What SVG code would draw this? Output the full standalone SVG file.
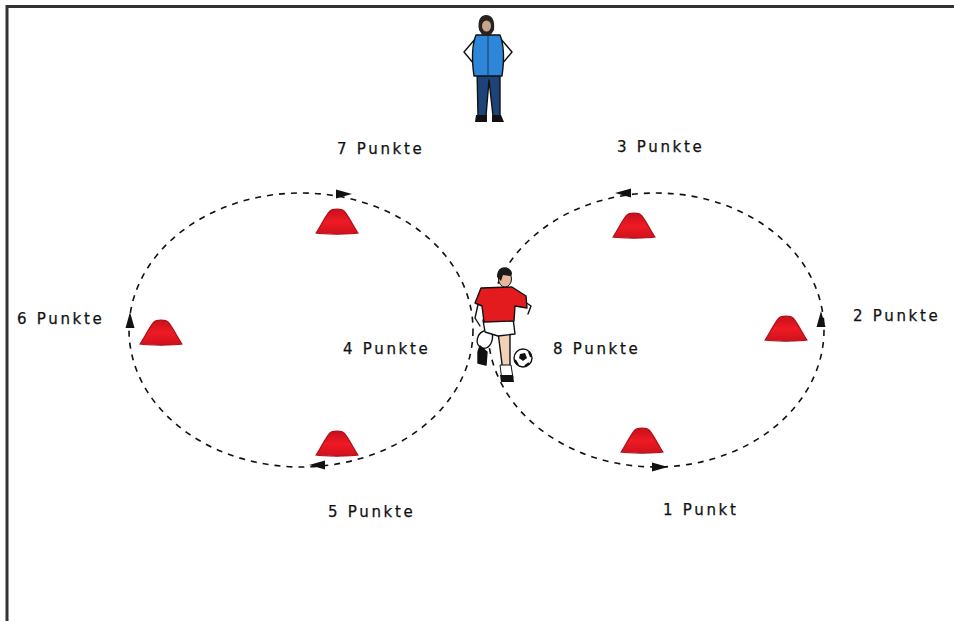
<svg xmlns="http://www.w3.org/2000/svg" width="954" height="621" viewBox="0 0 954 621">
  <style>
    .lbl { font-family: "DejaVu Sans", Verdana, sans-serif; font-size: 15px; fill: #111; letter-spacing: 2.7px; stroke: #111; stroke-width: 0.25; }
    .run { fill: none; stroke: #111; stroke-width: 1.6; stroke-dasharray: 6 6; }
    .cone { fill: url(#coneFill); stroke: #b0101a; stroke-width: 1.2; }
    .ink { stroke: #111; stroke-width: 1.4; stroke-linejoin: round; stroke-linecap: round; }
  </style>
  <defs>
    <linearGradient id="coneFill" x1="0" y1="0" x2="0" y2="1">
      <stop offset="0" stop-color="#c8101c"/>
      <stop offset="0.5" stop-color="#ee1a24"/>
      <stop offset="1" stop-color="#d0121c"/>
    </linearGradient>
    <path id="arrowHead" d="M0,0 L-16,-4.5 L-16,4.5 Z" fill="#111"/>
    <path id="coneShape" class="cone" d="M-21,0 C-18,-4 -11,-18 -7,-22 C-5,-24.5 5,-24.5 7,-22 C11,-18 18,-4 21,0 C14,1.5 -14,1.5 -21,0 Z"/>
  </defs>

  <rect x="0" y="0" width="954" height="621" fill="#fff"/>

  <!-- field border -->
  <g id="field">
    <path d="M7,621 L7,6.5 L954,6.5" fill="none" stroke="#333" stroke-width="3"/>
  </g>

  <!-- running loops and direction arrows -->
  <g id="connectors">
    <ellipse class="run" cx="301" cy="330" rx="172" ry="137"/>
    <ellipse class="run" cx="656" cy="330" rx="168" ry="137"/>
    <use href="#arrowHead" transform="translate(352,194)"/>
    <use href="#arrowHead" transform="translate(130,312) rotate(-90)"/>
    <use href="#arrowHead" transform="translate(309,465) rotate(180)"/>
    <use href="#arrowHead" transform="translate(615,193) rotate(180)"/>
    <use href="#arrowHead" transform="translate(821,311) rotate(-90)"/>
    <use href="#arrowHead" transform="translate(668,467)"/>
  </g>

  <!-- cones -->
  <g id="cone-7"><use href="#coneShape" transform="translate(337,233)"/></g>
  <g id="cone-6"><use href="#coneShape" transform="translate(161,344)"/></g>
  <g id="cone-5"><use href="#coneShape" transform="translate(337,455)"/></g>
  <g id="cone-3"><use href="#coneShape" transform="translate(634,237)"/></g>
  <g id="cone-2"><use href="#coneShape" transform="translate(786,340)"/></g>
  <g id="cone-1"><use href="#coneShape" transform="translate(642,452)"/></g>

  <!-- coach -->
  <g id="coach">
    <!-- arms akimbo -->
    <path class="ink" d="M476,38 L464,52 L474,64" fill="none" stroke-width="2.2"/>
    <path class="ink" d="M500,38 L512,52 L502,64" fill="none" stroke-width="2.2"/>
    <!-- trousers -->
    <path class="ink" d="M477,68 L500,68 L500,116 L493,116 L489,80 L486,116 L478,116 Z" fill="#1d4378"/>
    <!-- shoes -->
    <path d="M476,115 L487,115 L487,122 L475,122 Z" fill="#111"/>
    <path d="M492,115 L501,115 L504,122 L492,122 Z" fill="#111"/>
    <!-- jacket -->
    <path class="ink" d="M476,35 L500,35 C504,45 504,62 502,76 L474,76 C472,62 472,45 476,35 Z" fill="#2e86d8"/>
    <path d="M488,36 L488,76" stroke="#123a66" stroke-width="1"/>
    <!-- head and hair -->
    <path d="M479,30 C477,20 481,15 486,15 C492,15 495,20 494,30 L490,36 L483,36 Z" fill="#2a2220"/>
    <ellipse cx="486.5" cy="26" rx="4.5" ry="5.5" fill="#c9a48a"/>
  </g>

  <!-- player with ball -->
  <g id="player">
    <!-- back leg (white outline) -->
    <path class="ink" d="M487,330 C476,332 474,345 482,348 C490,350 494,340 492,332" fill="#fff"/>
    <path class="ink" d="M480,346 L478,352 L478,363 L486,365 L487,352 Z" fill="#111"/>
    <!-- standing leg -->
    <path class="ink" d="M498,332 L510,332 L510,372 L503,372 Z" fill="#f2d0b6"/>
    <path d="M500,365 L511,365 L513,378 L502,381 Z" fill="#fff" stroke="#111" stroke-width="1"/>
    <path d="M500,375 L513,375 L514,382 L501,382 Z" fill="#111"/>
    <!-- shorts -->
    <path class="ink" d="M483,320 L513,318 L515,334 L498,336 L485,332 Z" fill="#fff"/>
    <!-- arms -->
    <path class="ink" d="M479,300 L475,318 L480,326" fill="none" stroke-width="3"/>
    <path class="ink" d="M522,300 L531,306 L528,314" fill="none" stroke-width="3"/>
    <!-- shirt -->
    <path class="ink" d="M481,288 L512,287 L526,296 L527,308 L515,306 L514,321 L484,322 L482,306 L475,303 Z" fill="#e41b1e"/>
    <!-- head -->
    <ellipse cx="505" cy="279" rx="6.5" ry="8" fill="#e8b79b" stroke="#111" stroke-width="1"/>
    <path d="M497,277 C497,268 503,266 508,268 C512,270 513,274 511,276 L503,275 L501,281 Z" fill="#1a1a1a"/>
    <!-- ball -->
    <circle cx="523" cy="358" r="9" fill="#fff" stroke="#111" stroke-width="1.4"/>
    <path d="M520,354 L525,353 L527,358 L523,361 L519,358 Z" fill="#111"/>
    <path d="M515,360 L518,365 M529,352 L531,357 M525,366 L529,363" stroke="#111" stroke-width="2"/>
  </g>

  <!-- point labels -->
  <g id="labels">
    <text class="lbl" x="337" y="154">7 Punkte</text>
    <text class="lbl" x="617" y="152">3 Punkte</text>
    <text class="lbl" x="17" y="324">6 Punkte</text>
    <text class="lbl" x="853" y="321">2 Punkte</text>
    <text class="lbl" x="343" y="354">4 Punkte</text>
    <text class="lbl" x="553" y="354">8 Punkte</text>
    <text class="lbl" x="328" y="517">5 Punkte</text>
    <text class="lbl" x="663" y="515">1 Punkt</text>
  </g>
</svg>
